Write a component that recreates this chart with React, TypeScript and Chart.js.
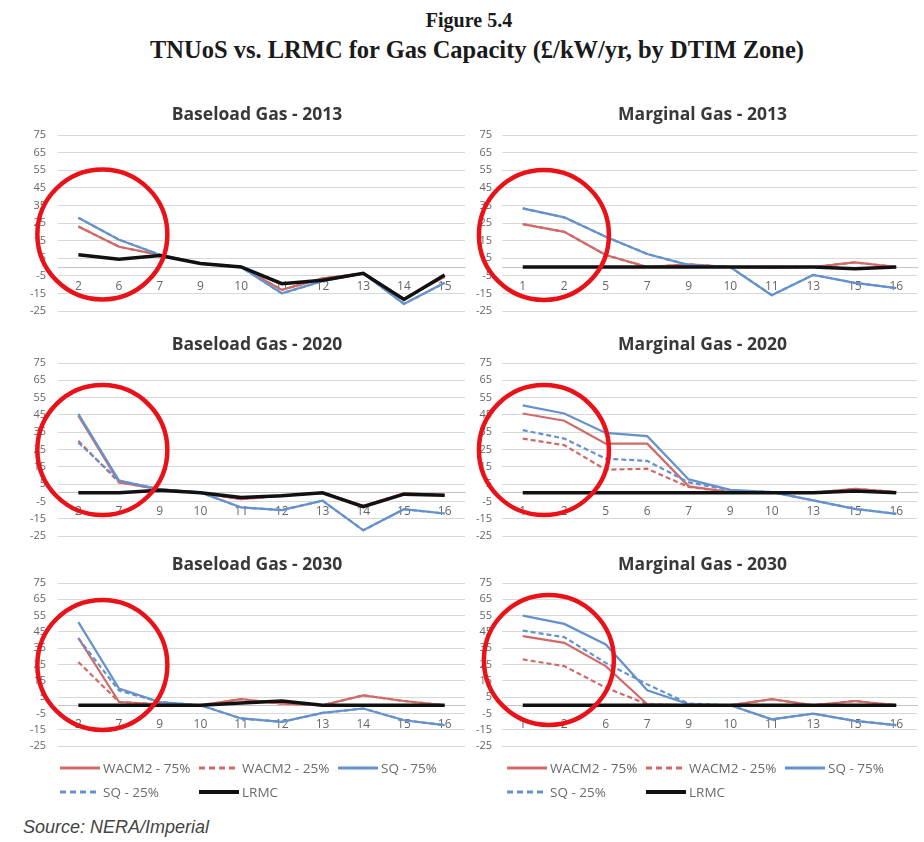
import React, { useEffect, useRef } from "react";
import { Chart, registerables } from "chart.js";
Chart.register(...registerables);

// ---------------- DATA ----------------
const seriesNames = ["WACM2 - 75%", "WACM2 - 25%", "SQ - 75%", "SQ - 25%", "LRMC"];
const yMin = -25;
const yMax = 75;
const yStep = 10;

// Baseload Gas - 2013
const baseload2013Zones = ["2", "6", "7", "9", "10", "11", "12", "13", "14", "15"];
const baseload2013Wacm75 = [23, 11.5, 6.8, 2, 0, -13, -6.5, -3.6, -18, -5.5];
const baseload2013Wacm25 = [23, 11.5, 6.8, 2, 0, -13, -6.5, -3.6, -18, -5.5];
const baseload2013Sq75 = [28, 15.5, 7, 2, 0, -15, -8, -3.6, -21, -9];
const baseload2013Sq25 = [28, 15.5, 7, 2, 0, -15, -8, -3.6, -21, -9];
const baseload2013Lrmc = [7, 4.4, 6.5, 2, 0, -9.5, -7.5, -3.6, -18.5, -4.5];

// Marginal Gas - 2013
const marginal2013Zones = ["1", "2", "5", "7", "9", "10", "11", "13", "15", "16"];
const marginal2013Wacm75 = [24.4, 20, 6.8, 0, 1.5, 0, -0.5, 0, 2.6, 0];
const marginal2013Wacm25 = [24.4, 20, 6.8, 0, 1.5, 0, -0.5, 0, 2.6, 0];
const marginal2013Sq75 = [33.3, 28.2, 17.2, 7.4, 1.1, 0, -16, -4.5, -9, -12];
const marginal2013Sq25 = [33.3, 28.2, 17.2, 7.4, 1.1, 0, -16, -4.5, -9, -12];
const marginal2013Lrmc = [0, 0, 0, 0, 0, 0, 0, 0, -1, 0];

// Baseload Gas - 2020
const baseload2020Zones = ["2", "7", "9", "10", "11", "12", "13", "14", "15", "16"];
const baseload2020Wacm75 = [44.5, 6, 2, 0, -3.7, -1.7, 0, -7.5, -0.4, -1.4];
const baseload2020Wacm25 = [30, 6, 2, 0, -3.7, -1.7, 0, -7.5, -0.4, -1.4];
const baseload2020Sq75 = [45.6, 7, 2, 0.2, -8.5, -10, -4.6, -21.7, -9.5, -12];
const baseload2020Sq25 = [29, 7, 2, 0.2, -8.5, -10, -4.6, -21.7, -9.5, -12];
const baseload2020Lrmc = [0, 0, 1.5, 0, -2.7, -1.7, 0, -8, -0.8, -1.4];

// Marginal Gas - 2020
const marginal2020Zones = ["1", "2", "5", "6", "7", "9", "10", "13", "15", "16"];
const marginal2020Wacm75 = [45.8, 41.6, 28.4, 28.4, 3.7, 0.4, 0, 0, 2.3, 0.4];
const marginal2020Wacm25 = [31.3, 27.5, 13.3, 13.9, 3.3, 0.4, 0, 0, 2.3, 0.4];
const marginal2020Sq75 = [50.5, 45.8, 34.6, 32.7, 7.7, 1.7, 0.4, -4.4, -9.3, -12.2];
const marginal2020Sq25 = [36.2, 31.3, 19.7, 18.4, 6, 1.5, 0.4, -4.4, -9.3, -12.2];
const marginal2020Lrmc = [0, 0, 0, 0, 0, 0, 0, 0, 1, 0];

// Baseload Gas - 2030
const baseload2030Zones = ["2", "7", "9", "10", "11", "12", "13", "14", "15", "16"];
const baseload2030Wacm75 = [41.3, 2, 0.6, 0, 3.7, 1, 0, 6.1, 2.6, 0];
const baseload2030Wacm25 = [26.5, 2, 0.6, 0, 3.7, 1, 0, 6.1, 2.6, 0];
const baseload2030Sq75 = [51, 10.2, 2, 0, -8.1, -10.2, -4.7, -2, -9.2, -12.2];
const baseload2030Sq25 = [41, 9, 2, 0, -8.1, -10.2, -4.7, -2, -9.2, -12.2];
const baseload2030Lrmc = [0, 0, 0, 0, 1.4, 2.6, 0, 0, 0, 0];

// Marginal Gas - 2030
const marginal2030Zones = ["1", "2", "6", "7", "9", "10", "11", "13", "15", "16"];
const marginal2030Wacm75 = [42.4, 38.3, 24, 0.6, 0, 0, 3.7, 0, 2.6, 0];
const marginal2030Wacm25 = [28.1, 24, 10.8, 0.6, 0, 0, 3.7, 0, 2.6, 0];
const marginal2030Sq75 = [55, 49.9, 37.3, 9.2, 0.6, 0, -8.6, -5.1, -9.6, -12.2];
const marginal2030Sq25 = [45.8, 41.8, 26, 12.8, 1, 0, -8.6, -5.1, -9.6, -12.2];
const marginal2030Lrmc = [0, 0, 0, 0, 0, 0, 0, 0, 0, 0];

// Red highlight circles (category position, value)
const circleCatPos = [0.59, 0.51, 0.59, 0.51, 0.59, 0.63];
const circleValue = [18.5, 18.2, 24.7, 24.7, 24.7, 27.8];

// ---------------- STYLE ----------------
const RED = "#d06a68";
const BLUE = "#6592cc";
const BLACK = "#111111";
const seriesColors = [RED, RED, BLUE, BLUE, BLACK];
const seriesDash = [[], [5, 3], [], [5, 3], []];
const seriesWidth = [2.2, 2.2, 2.2, 2.2, 3.5];

const panels = [
  { title: "Baseload Gas - 2013", zones: baseload2013Zones, data: [baseload2013Wacm75, baseload2013Wacm25, baseload2013Sq75, baseload2013Sq25, baseload2013Lrmc] },
  { title: "Marginal Gas - 2013", zones: marginal2013Zones, data: [marginal2013Wacm75, marginal2013Wacm25, marginal2013Sq75, marginal2013Sq25, marginal2013Lrmc] },
  { title: "Baseload Gas - 2020", zones: baseload2020Zones, data: [baseload2020Wacm75, baseload2020Wacm25, baseload2020Sq75, baseload2020Sq25, baseload2020Lrmc] },
  { title: "Marginal Gas - 2020", zones: marginal2020Zones, data: [marginal2020Wacm75, marginal2020Wacm25, marginal2020Sq75, marginal2020Sq25, marginal2020Lrmc] },
  { title: "Baseload Gas - 2030", zones: baseload2030Zones, data: [baseload2030Wacm75, baseload2030Wacm25, baseload2030Sq75, baseload2030Sq25, baseload2030Lrmc] },
  { title: "Marginal Gas - 2030", zones: marginal2030Zones, data: [marginal2030Wacm75, marginal2030Wacm25, marginal2030Sq75, marginal2030Sq25, marginal2030Lrmc] },
];

// layout
const rowLayout = [
  { titleY: 115, plotTop: 135, plotBottom: 311 },
  { titleY: 345, plotTop: 363, plotBottom: 536 },
  { titleY: 565, plotTop: 583, plotBottom: 746 },
];
const colLayout = [
  { left: 10, plotLeft: 58, plotRight: 465, titleX: 257, tickPad: 12 },
  { left: 462, plotLeft: 502, plotRight: 917, titleX: 702.5, tickPad: 10 },
];
const CANVAS_W = 460;
const PAD_BOTTOM = 22;

const panelTitlePlugin = {
  id: "panelTitle",
  afterDraw(chart: any, _args: any, opts: any) {
    if (!opts || !opts.text) return;
    const ctx = chart.ctx;
    ctx.save();
    ctx.font = "bold 17.5px 'Open Sans'";
    ctx.fillStyle = "#383838";
    ctx.textAlign = "center";
    ctx.textBaseline = "middle";
    ctx.fillText(opts.text, opts.x, opts.y);
    ctx.restore();
  },
};

const circlePlugin = {
  id: "circleMark",
  afterDatasetsDraw(chart: any, _args: any, opts: any) {
    if (!opts || opts.cat == null) return;
    const ctx = chart.ctx;
    const x = chart.scales.x.getPixelForValue(opts.cat);
    const y = chart.scales.y.getPixelForValue(opts.value);
    ctx.save();
    ctx.beginPath();
    ctx.arc(x, y, opts.r, 0, Math.PI * 2);
    ctx.lineWidth = 4.5;
    ctx.strokeStyle = "#ea1219";
    ctx.stroke();
    ctx.restore();
  },
};

function Panel({ index }: { index: number }) {
  const ref = useRef<HTMLCanvasElement>(null);
  const p = panels[index];
  const row = rowLayout[Math.floor(index / 2)];
  const col = colLayout[index % 2];
  const canvasTop = row.titleY - 16;
  const padTop = row.plotTop - canvasTop;
  const height = row.plotBottom - canvasTop + PAD_BOTTOM;
  const axisW = col.plotLeft - col.left;
  const padRight = col.left + CANVAS_W - col.plotRight;

  useEffect(() => {
    const order = [4, 3, 2, 1, 0];
    const chart = new Chart(ref.current!, {
      type: "line",
      data: {
        labels: p.zones,
        datasets: seriesNames.map((name, i) => ({
          label: name,
          data: p.data[i],
          borderColor: seriesColors[i],
          backgroundColor: seriesColors[i],
          borderWidth: seriesWidth[i],
          borderDash: seriesDash[i],
          pointRadius: 0,
          tension: 0,
          fill: false,
          order: order[i],
        })),
      },
      options: {
        responsive: false,
        animation: false,
        devicePixelRatio: 1,
        layout: { padding: { top: padTop, bottom: PAD_BOTTOM, left: 0, right: padRight } },
        plugins: {
          legend: { display: false },
          tooltip: { enabled: false },
          title: { display: false },
          panelTitle: { text: p.title, x: col.titleX - col.left, y: row.titleY - canvasTop },
          circleMark: { cat: circleCatPos[index], value: circleValue[index], r: 65 },
        } as any,
        scales: {
          x: {
            type: "category",
            offset: true,
            position: { y: 0 } as any,
            grid: { display: false, drawTicks: false },
            border: { display: true, color: "#c4c4c4", width: 1 },
            ticks: {
              color: "#666666",
              font: { family: "'Open Sans'", size: 12 },
              padding: 12,
              maxRotation: 0,
              autoSkip: false,
            },
          },
          y: {
            min: yMin,
            max: yMax,
            position: "left",
            afterFit: (scale: any) => {
              scale.width = axisW;
            },
            grid: { color: "#d8d8d8", lineWidth: 1, drawTicks: false },
            border: { display: false },
            ticks: {
              stepSize: yStep,
              color: "#666666",
              font: { family: "'Open Sans'", size: 11 },
              padding: col.tickPad,
            },
          },
        },
      },
      plugins: [panelTitlePlugin, circlePlugin],
    } as any);
    return () => chart.destroy();
  }, []);

  return (
    <canvas
      ref={ref}
      width={CANVAS_W}
      height={height}
      style={{ position: "absolute", left: col.left, top: canvasTop, width: CANVAS_W, height, display: "block" }}
    />
  );
}

function LegendSwatch({ i }: { i: number }) {
  return (
    <svg width={40} height={8} style={{ display: "block", flex: "none" }}>
      <line
        x1={0}
        y1={4}
        x2={40}
        y2={4}
        stroke={seriesColors[i]}
        strokeWidth={i === 4 ? 4 : 3}
        strokeDasharray={seriesDash[i].length ? "6 4" : undefined}
      />
    </svg>
  );
}

function Legend({ left }: { left: number }) {
  const cells = [
    { i: 0, c: 0, r: 0 },
    { i: 1, c: 1, r: 0 },
    { i: 2, c: 2, r: 0 },
    { i: 3, c: 0, r: 1 },
    { i: 4, c: 1, r: 1 },
  ];
  return (
    <>
      {cells.map((cell) => (
        <div
          key={cell.i}
          style={{
            position: "absolute",
            left: left + cell.c * 139,
            top: 768 + cell.r * 24 - 9,
            height: 18,
            display: "flex",
            alignItems: "center",
            gap: 3,
            fontFamily: "'Open Sans', sans-serif",
            fontSize: 13.5,
            color: "#6a6a6a",
            whiteSpace: "nowrap",
          }}
        >
          <LegendSwatch i={cell.i} />
          <span>{seriesNames[cell.i]}</span>
        </div>
      ))}
    </>
  );
}

export default function App() {
  return (
    <div style={{ position: "absolute", left: 0, top: 0, width: 924, height: 842, background: "#fff", overflow: "hidden" }}>
      <div
        style={{
          position: "absolute",
          left: 0,
          top: 5,
          width: 924,
          fontFamily: "'Liberation Serif', serif",
          fontWeight: "bold",
          lineHeight: "30px",
          color: "#1a1a1a",
        }}
      >
        <div style={{ fontSize: 20, textAlign: "center", paddingLeft: 14 }}>Figure 5.4</div>
        <div style={{ fontSize: 24.5, textAlign: "center", paddingLeft: 30 }}>
          TNUoS vs. LRMC for Gas Capacity (£/kW/yr, by DTIM Zone)
        </div>
      </div>
      {panels.map((_, i) => (
        <Panel key={i} index={i} />
      ))}
      <Legend left={60} />
      <Legend left={507} />
      <div
        style={{
          position: "absolute",
          left: 23,
          top: 817,
          fontFamily: "'Liberation Sans', Arial, sans-serif",
          fontStyle: "italic",
          fontSize: 18,
          lineHeight: "20px",
          color: "#444",
        }}
      >
        Source: NERA/Imperial
      </div>
    </div>
  );
}
